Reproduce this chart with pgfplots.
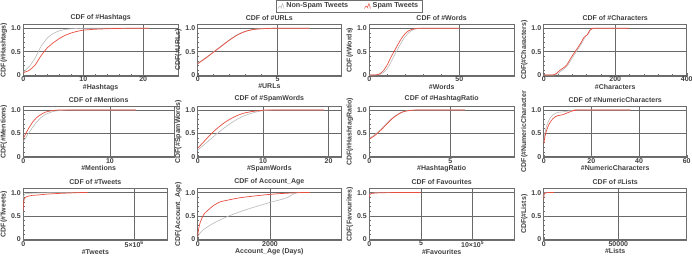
\documentclass[border=0pt]{standalone}
\usepackage{fontspec}
\setmainfont{Liberation Sans}
\usepackage{pgfplots}
\pgfplotsset{compat=1.18}

\definecolor{spamred}{RGB}{232,78,64}
\definecolor{nonspam}{RGB}{185,185,185}
\definecolor{gridc}{RGB}{105,105,105}
\definecolor{framec}{RGB}{110,110,110}

\newcommand{\smallbf}{\fontsize{7}{8}\selectfont\bfseries}

\pgfplotsset{
  cdf/.style={
    anchor=south west,
    scale only axis,
    height=51.8pt,
    xmin=0, ymin=-0.02, ymax=1.09,
    ytick={0,0.5,1}, yticklabels={0,0.5,1.0},
    grid=major,
    major grid style={gridc, line width=0.6pt},
    axis line style={framec, line width=0.5pt},
    tick style={framec, line width=0.4pt},
    tick align=inside, xtick pos=left, ytick pos=left,
    minor x tick num=4, minor y tick num=4,
    major tick length=3pt, minor tick length=1.6pt,
    tick label style={font=\smallbf, text=black!75},
    xticklabel style={yshift=2.6pt},
    yticklabel style={xshift=1pt},
    title style={font=\smallbf, text=black!75, yshift=-6pt},
    xlabel style={font=\smallbf, text=black!75, yshift=4.6pt},
    ylabel style={font=\smallbf, text=black!75, yshift=-3pt},
    scaled x ticks=false,
  },
  nsp/.style={nonspam, line width=0.6pt, smooth, tension=0.35, no marks},
  sp/.style={spamred, line width=0.7pt, smooth, tension=0.35, no marks},
}

\begin{document}
\begin{tikzpicture}
\useasboundingbox (0,0) rectangle (692pt,257pt);

% ---------------- legend ----------------
\begin{axis}[hide axis, scale only axis, width=1pt, height=1pt,
  at={(349pt,251pt)}, anchor=center, xmin=0, xmax=1, ymin=0, ymax=1,
  legend columns=2,
  legend style={at={(0.5,0.5)}, anchor=center, draw=framec, line width=0.4pt,
    font=\fontsize{7.2}{8}\selectfont\bfseries, text=black!75,
    inner xsep=2pt, inner ysep=0.5pt,
    /tikz/every even column/.append style={column sep=14pt}},
  legend image code/.code={
    \draw[#1, line width=0.5pt] (0pt,-2.5pt) -- (1.5pt,0pt) -- (3pt,-1.2pt) -- (4.5pt,2.5pt) -- (6pt,-2.5pt);
    \draw[#1, line width=0.5pt] (3pt,-1.2pt) -- (3.8pt,-2.5pt);
  }]
\addlegendimage{nonspam}
\addlegendentry{Non-Spam Tweets}
\addlegendimage{spamred}
\addlegendentry{Spam Tweets}
\end{axis}

% ---------------- row 1 ----------------
\begin{axis}[cdf, at={(23.3pt,181.1pt)}, width=154.7pt, xmax=25.8,
  xtick={0,10,20}, xticklabels={0,10,20},
  title={CDF of \#Hashtags}, xlabel={\#Hashtags}, ylabel={CDF(\#Hashtags)}]
\addplot[nsp] coordinates {(0,0.06) (1,0.18) (2,0.37) (2.5,0.5) (3,0.62) (4,0.79) (5,0.89) (6,0.945) (7,0.975) (8,0.99) (9,0.997) (10,1) (21,1)};
\addplot[sp] coordinates {(0,0.05) (1,0.1) (2,0.22) (3,0.42) (4,0.58) (5,0.69) (6,0.78) (7,0.85) (8,0.9) (9,0.935) (10,0.96) (12,0.98) (15,0.995) (18,1) (21,1)};
\end{axis}

\begin{axis}[cdf, at={(197.7pt,181.1pt)}, width=143.3pt, xmax=8.96,
  xtick={0,5}, xticklabels={0,5},
  title={CDF of \#URLs}, xlabel={\#URLs}, ylabel={CDF(\#URLs)}]
\addplot[nsp] coordinates {(0,0.25) (0.5,0.37) (1,0.5) (1.5,0.63) (2,0.76) (2.5,0.87) (3,0.94) (3.5,0.98) (4,0.995) (4.5,1) (7,1)};
\addplot[sp] coordinates {(0,0.24) (0.5,0.36) (1,0.49) (1.5,0.62) (2,0.75) (2.5,0.86) (3,0.935) (3.5,0.975) (4,0.99) (4.5,0.998) (5,1) (7,1)};
\end{axis}

\begin{axis}[cdf, at={(369.3pt,181.1pt)}, width=144.7pt, xmax=80.4,
  xtick={0,50}, xticklabels={0,50},
  title={CDF of \#Words}, xlabel={\#Words}, ylabel={CDF(\#Words)}]
\addplot[nsp] coordinates {(0,0) (5,0.003) (7,0.03) (9,0.09) (11,0.2) (13,0.35) (15,0.5) (17,0.64) (19,0.77) (21,0.87) (23,0.94) (25,0.98) (27,0.995) (29,1) (50,1)};
\addplot[sp] coordinates {(0,0) (4,0.003) (6,0.03) (8,0.1) (10,0.22) (12,0.38) (14,0.52) (16,0.66) (18,0.79) (20,0.89) (22,0.95) (24,0.98) (26,0.995) (28,1) (50,1)};
\end{axis}

\begin{axis}[cdf, at={(543.7pt,181.1pt)}, width=143pt, xmax=400,
  xtick={0,200,400}, xticklabels={0,200,400},
  title={CDF of \#Characters}, xlabel={\#Characters}, ylabel={CDF(\#Characters)}]
\addplot[nsp] coordinates {(0,0) (28,0) (38,0.02) (48,0.08) (58,0.14) (68,0.22) (78,0.34) (88,0.46) (98,0.58) (108,0.7) (115,0.8) (120,0.85) (125,0.88) (130,0.96) (136,0.99) (142,1) (230,1)};
\addplot[sp] coordinates {(0,0) (25,0) (35,0.03) (45,0.1) (55,0.15) (65,0.22) (75,0.35) (85,0.47) (95,0.58) (105,0.7) (112,0.8) (118,0.84) (122,0.86) (128,0.95) (135,0.99) (140,1) (240,1)};
\end{axis}

% ---------------- row 2 ----------------
\begin{axis}[cdf, at={(23.3pt,99.4pt)}, width=150.7pt, xmax=17.4,
  xtick={0,10}, xticklabels={0,10},
  title={CDF of \#Mentions}, xlabel={\#Mentions}, ylabel={CDF(\#Mentions)}]
\addplot[nsp] coordinates {(0,0.32) (0.5,0.47) (1,0.61) (1.5,0.73) (2,0.83) (2.5,0.9) (3,0.94) (3.5,0.97) (4,0.985) (5,0.998) (6,1) (13,1)};
\addplot[sp] coordinates {(0,0.39) (0.5,0.57) (1,0.72) (1.5,0.83) (2,0.9) (2.5,0.95) (3,0.975) (3.5,0.99) (4.5,1) (13,1)};
\end{axis}

\begin{axis}[cdf, at={(197.7pt,99.4pt)}, width=143.3pt, xmax=21.9,
  xtick={0,10,20}, xticklabels={0,10,20},
  title={CDF of \#SpamWords}, xlabel={\#SpamWords}, ylabel={CDF(\#SpamWords)}]
\addplot[nsp] coordinates {(0,0.14) (1,0.26) (2,0.38) (3,0.5) (4,0.61) (5,0.71) (6,0.8) (7,0.87) (8,0.92) (9,0.96) (10,0.985) (11,0.995) (12,1) (19.3,1)};
\addplot[sp] coordinates {(0,0.18) (1,0.33) (2,0.48) (3,0.61) (4,0.72) (5,0.81) (6,0.88) (7,0.93) (8,0.96) (9,0.98) (10,0.995) (11,1) (19.3,1)};
\end{axis}

\begin{axis}[cdf, at={(369.3pt,99.4pt)}, width=144.7pt, xmax=8.93,
  xtick={0,5}, xticklabels={0,5},
  title={CDF of \#HashtagRatio}, xlabel={\#HashtagRatio}, ylabel={CDF(\#HashtagRatio)}]
\addplot[nsp] coordinates {(0,0.4) (0.25,0.45) (0.5,0.52) (0.75,0.6) (1,0.69) (1.25,0.78) (1.5,0.85) (1.75,0.91) (2,0.955) (2.25,0.98) (2.5,0.99) (3,1) (5.9,1)};
\addplot[sp] coordinates {(0,0.38) (0.25,0.43) (0.5,0.5) (0.75,0.58) (1,0.67) (1.25,0.76) (1.5,0.84) (1.75,0.9) (2,0.95) (2.25,0.975) (2.5,0.99) (3,1) (5.9,1)};
\end{axis}

\begin{axis}[cdf, at={(543.7pt,99.4pt)}, width=143pt, xmax=60,
  xtick={0,20,40,60}, xticklabels={0,20,40,60},
  title={CDF of \#NumericCharacters}, xlabel={\#NumericCharacters}, ylabel={CDF(\#NumericCharacter}]
\addplot[nsp] coordinates {(0,0.33) (0.5,0.5) (1,0.62) (2,0.76) (3,0.85) (4,0.9) (5,0.93) (6,0.95) (8,0.96) (10,0.975) (12,0.99) (14,1) (36.5,1)};
\addplot[sp] coordinates {(0,0.27) (0.5,0.42) (1,0.53) (2,0.67) (3,0.76) (4,0.82) (5,0.86) (6,0.88) (7,0.89) (8,0.9) (9,0.92) (10,0.94) (11,0.96) (12,0.98) (13,0.99) (14,1) (36.5,1)};
\end{axis}

% ---------------- row 3 ----------------
\begin{axis}[cdf, at={(23.3pt,16.8pt)}, width=144.2pt, xmax=6500000,
  xtick={0,5000000}, xticklabels={0,5×10\textsuperscript{6}},
  title={CDF of \#Tweets}, xlabel={\#Tweets}, ylabel={CDF(\#Tweets)}]
\addplot[nsp] coordinates {(0,0.85) (20000,0.93) (50000,0.96) (100000,0.975) (300000,0.985) (600000,0.99) (1000000,0.995) (1500000,1) (2500000,1)};
\addplot[sp] coordinates {(0,0.6) (20000,0.8) (50000,0.87) (100000,0.9) (200000,0.92) (400000,0.94) (700000,0.95) (1000000,0.965) (1500000,0.98) (2000000,0.99) (2500000,1) (2900000,1)};
\end{axis}

\begin{axis}[cdf, at={(197.7pt,16.8pt)}, width=143.3pt, xmax=3964,
  xtick={0,2000}, xticklabels={0,2000},
  title={CDF of Account\_Age}, xlabel={Account\_Age (Days)}, ylabel={CDF(Account\_Age)}]
\addplot[nsp] coordinates {(0,0.05) (50,0.12) (150,0.2) (300,0.28) (500,0.37) (800,0.48) (1100,0.57) (1400,0.65) (1700,0.72) (2000,0.79) (2300,0.85) (2500,0.9) (2650,0.97) (2750,1) (3100,1)};
\addplot[sp] coordinates {(0,0.05) (20,0.2) (65,0.35) (157,0.52) (250,0.6) (433,0.72) (617,0.8) (900,0.85) (1170,0.89) (1540,0.925) (1900,0.955) (2200,0.975) (2550,0.99) (2830,1) (3100,1)};
\end{axis}

\begin{axis}[cdf, at={(369.3pt,16.8pt)}, width=144.7pt, xmax=1400000,
  xtick={0,500000,1000000}, xticklabels={0,5,10×10\textsuperscript{5}},
  title={CDF of Favourites}, xlabel={\#Favourites}, ylabel={CDF(Favourites)}]
\addplot[nsp] coordinates {(0,0.93) (5000,0.97) (20000,0.985) (50000,0.995) (100000,1) (400000,1)};
\addplot[sp] coordinates {(0,0.9) (5000,0.96) (20000,0.98) (50000,0.99) (100000,0.995) (200000,1) (500000,1)};
\end{axis}

\begin{axis}[cdf, at={(543.7pt,16.8pt)}, width=143pt, xmax=95840,
  xtick={0,50000}, xticklabels={0,50000},
  title={CDF of \#Lists}, xlabel={\#Lists}, ylabel={CDF(\#Lists)}]
\addplot[nsp] coordinates {(0,0.9) (200,0.97) (500,0.99) (1000,0.995) (2000,1) (6000,1)};
\addplot[sp] coordinates {(0,0.85) (200,0.95) (500,0.98) (1000,0.99) (2000,0.997) (3000,1) (7000,1)};
\end{axis}
\end{tikzpicture}
\end{document}
